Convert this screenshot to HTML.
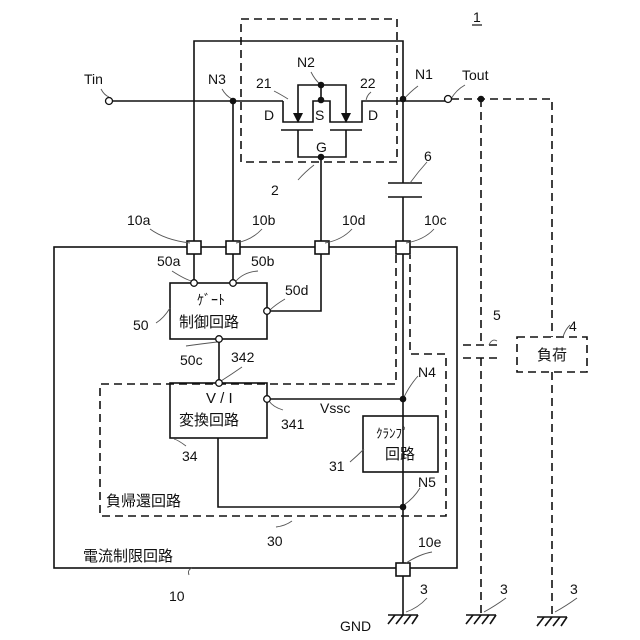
<!DOCTYPE html>
<html><head><meta charset="utf-8"><style>
html,body{margin:0;padding:0;background:#fff}
svg{display:block}
text{font-family:"Liberation Sans","Noto Sans CJK JP",sans-serif;fill:#111}
</style></head><body>
<svg width="640" height="640" viewBox="0 0 640 640" xmlns="http://www.w3.org/2000/svg">
<g stroke="#111" stroke-width="1.6" fill="none">
<rect x="241" y="19" width="156" height="143" stroke-dasharray="8,5"/>
<polyline points="194,242 194,41 403,41 403,183"/>
<line x1="112" y1="101" x2="283" y2="101"/>
<line x1="233" y1="101" x2="233" y2="242"/>
<polyline points="283,101 283,122 313,122 313,101 330,101 330,122 362,122 362,101 445,101"/>
<line x1="321" y1="85" x2="321" y2="101"/>
<polyline points="298,116 298,85 346,85 346,116"/>
<line x1="281" y1="130" x2="313" y2="130"/>
<line x1="330" y1="130" x2="362" y2="130"/>
<polyline points="298,130 298,157 346,157 346,130"/>
<line x1="321" y1="157" x2="321" y2="242"/>
<line x1="388" y1="183" x2="422" y2="183"/>
<line x1="388" y1="197" x2="422" y2="197"/>
<line x1="403" y1="197" x2="403" y2="241"/>
<rect x="54" y="247" width="403" height="321"/>
<rect x="187" y="241" width="14" height="13" fill="#fff"/>
<rect x="226" y="241" width="14" height="13" fill="#fff"/>
<rect x="315" y="241" width="14" height="13" fill="#fff"/>
<rect x="396" y="241" width="14" height="13" fill="#fff"/>
<rect x="396" y="563" width="14" height="13" fill="#fff"/>
<line x1="194" y1="254" x2="194" y2="280"/>
<line x1="233" y1="254" x2="233" y2="280"/>
<polyline points="321,254 321,311 270,311"/>
<rect x="170" y="283" width="97" height="56"/>
<line x1="219" y1="342" x2="219" y2="380"/>
<rect x="170" y="383" width="97" height="55"/>
<line x1="270" y1="399" x2="403" y2="399"/>
<line x1="403" y1="254" x2="403" y2="563"/>
<rect x="363" y="416" width="75" height="56"/>
<polyline points="218,438 218,507 403,507"/>
<line x1="403" y1="576" x2="403" y2="615"/>
<polyline points="396,255 396,384 100,384 100,516 446,516 446,354 410,354 410,255" stroke-dasharray="8,5"/>
<polyline points="451,99 552,99 552,337" stroke-dasharray="8,5"/>
<line x1="481" y1="99" x2="481" y2="345" stroke-dasharray="8,5"/>
<line x1="463" y1="345" x2="498" y2="345" stroke-dasharray="8,5"/>
<line x1="463" y1="358" x2="498" y2="358" stroke-dasharray="8,5"/>
<line x1="481" y1="358" x2="481" y2="615" stroke-dasharray="8,5"/>
<rect x="517" y="337" width="70" height="35" stroke-dasharray="8,5"/>
<line x1="552" y1="372" x2="552" y2="615" stroke-dasharray="8,5"/>
<line x1="388" y1="615" x2="418" y2="615"/>
<line x1="466" y1="615" x2="496" y2="615"/>
<line x1="537" y1="617" x2="567" y2="617"/>
<path d="M388,624 L395,615 M396,624 L403,615 M404,624 L411,615 M412,624 L418,615"/>
<path d="M466,624 L473,615 M474,624 L481,615 M482,624 L489,615 M490,624 L496,615"/>
<path d="M537,626 L544,617 M545,626 L552,617 M553,626 L560,617 M561,626 L567,617"/>
<g stroke-width="0.9" stroke="#555">
<path d="M101,89 Q104,95 109,97"/><path d="M222,89 Q226,96 232,99"/>
<path d="M274,91 Q280,94 288,99"/><path d="M311,72 Q315,80 320,84"/>
<path d="M371,92 Q366,96 366,102"/><path d="M418,86 Q410,92 404,99"/>
<path d="M465,85 Q456,90 451,99"/><path d="M427,162 Q418,172 410,183"/>
<path d="M298,180 Q305,172 314,165"/>
<path d="M150,229 Q165,240 190,243"/><path d="M262,229 Q252,240 236,243"/>
<path d="M352,229 Q342,240 325,243"/><path d="M434,229 Q424,240 406,243"/>
<path d="M172,271 Q186,280 192,281"/><path d="M258,271 Q244,272 236,281"/>
<path d="M285,299 Q275,305 270,310"/><path d="M156,323 Q164,318 170,308"/>
<path d="M186,346 Q200,344 217,342"/><path d="M242,367 Q232,374 221,381"/>
<path d="M283,410 Q273,407 269,401"/><path d="M186,446 Q178,440 174,439"/>
<path d="M350,462 Q357,456 364,449"/><path d="M418,376 Q410,385 404,397"/>
<path d="M420,488 Q414,498 404,505"/><path d="M292,521 Q285,526 276,527"/>
<path d="M189,575 Q187,570 192,568"/><path d="M432,552 Q420,554 406,563"/>
<path d="M427,598 Q418,608 406,612"/><path d="M497,341 Q492,338 489,345"/>
<path d="M570,325 Q565,330 563,337"/>
<path d="M506,598 Q495,606 484,612"/><path d="M577,598 Q566,606 555,612"/>
</g>
</g>
<path d="M293,113 L303,113 L298,123 Z" fill="#111"/>
<path d="M341,113 L351,113 L346,123 Z" fill="#111"/>
<g fill="#111">
<circle cx="233" cy="101" r="3.3"/><circle cx="403" cy="99" r="3.3"/>
<circle cx="321" cy="85" r="3.3"/><circle cx="321" cy="100" r="3.3"/>
<circle cx="321" cy="157" r="3.3"/><circle cx="481" cy="99" r="3.3"/>
<circle cx="403" cy="399" r="3.3"/><circle cx="403" cy="507" r="3.3"/>
</g>
<g fill="#fff" stroke="#111" stroke-width="1.3">
<circle cx="109" cy="101" r="3.5"/><circle cx="448" cy="99" r="3.5"/>
<circle cx="194" cy="283" r="3.3"/><circle cx="233" cy="283" r="3.3"/>
<circle cx="267" cy="311" r="3.3"/><circle cx="219" cy="339" r="3.3"/>
<circle cx="219" cy="383" r="3.3"/><circle cx="267" cy="399" r="3.3"/>
</g>
<g font-size="14">
<text x="473" y="22">1</text>
<line x1="472" y1="25" x2="482" y2="25" stroke="#111" stroke-width="1.2"/>
<text x="84" y="84">Tin</text>
<text x="208" y="84">N3</text>
<text x="297" y="67">N2</text>
<text x="256" y="88">21</text>
<text x="360" y="88">22</text>
<text x="264" y="120">D</text>
<text x="315" y="120">S</text>
<text x="368" y="120">D</text>
<text x="316" y="152">G</text>
<text x="415" y="79">N1</text>
<text x="462" y="80">Tout</text>
<text x="424" y="161">6</text>
<text x="271" y="195">2</text>
<text x="127" y="225">10a</text>
<text x="252" y="225">10b</text>
<text x="342" y="225">10d</text>
<text x="424" y="225">10c</text>
<text x="157" y="266">50a</text>
<text x="251" y="266">50b</text>
<text x="285" y="295">50d</text>
<text x="133" y="330">50</text>
<text x="180" y="365">50c</text>
<text x="231" y="362">342</text>
<text x="281" y="429">341</text>
<text x="320" y="413">Vssc</text>
<text x="418" y="377">N4</text>
<text x="182" y="461">34</text>
<text x="329" y="471">31</text>
<text x="418" y="487">N5</text>
<text x="267" y="546">30</text>
<text x="169" y="601">10</text>
<text x="418" y="547">10e</text>
<text x="420" y="594">3</text>
<text x="500" y="594">3</text>
<text x="570" y="594">3</text>
<text x="493" y="320">5</text>
<text x="569" y="331">4</text>
<text x="340" y="631">GND</text>
</g>
<g font-size="15">
<text x="197" y="305" font-size="14">ｹﾞｰﾄ</text>
<text x="179" y="327">制御回路</text>
<text x="206" y="403">V / I</text>
<text x="179" y="425">変換回路</text>
<text x="376" y="438" font-size="13">ｸﾗﾝﾌﾟ</text>
<text x="385" y="459">回路</text>
<text x="106" y="506">負帰還回路</text>
<text x="83" y="561">電流制限回路</text>
<text x="537" y="360">負荷</text>
</g>
</svg>
</body></html>
